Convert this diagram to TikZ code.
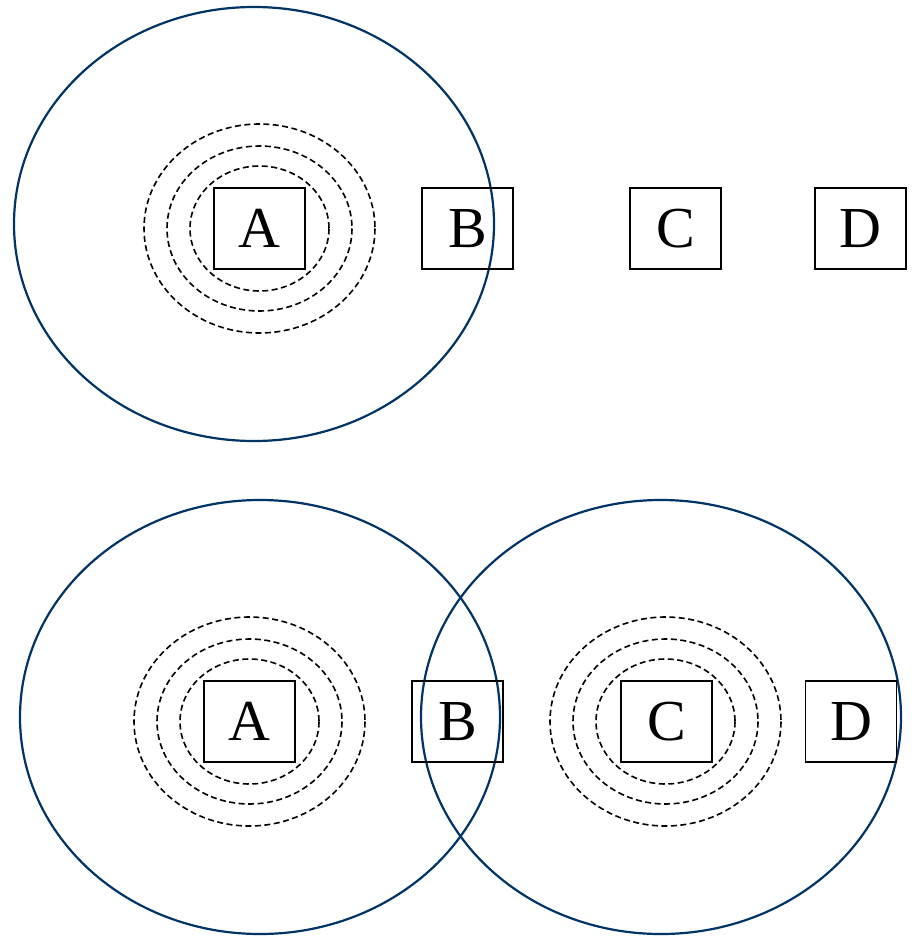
\documentclass[tikz,border=0pt]{standalone}
\usepackage{fontspec}
\setmainfont{Liberation Serif}
\definecolor{navy}{RGB}{0,51,102}
\begin{document}
\begin{tikzpicture}[x=1pt,y=-1pt,
  box/.style={draw=black,line width=1.9pt,minimum width=91pt,minimum height=81pt,inner sep=0pt,font=\fontsize{58}{58}\selectfont},
  big/.style={draw=navy,line width=2.2pt},
  ring/.style={draw=black,line width=1.6pt,dash pattern=on 6pt off 3.5pt}]
\useasboundingbox (0,0) rectangle (915,937);
% top
\draw[big] (254,224) ellipse [x radius=240,y radius=217];
\foreach \rx/\ry in {115.5/104.5,92.5/82.5,69.5/62.5}
  \draw[ring] (259.5,228.5) ellipse [x radius=\rx,y radius=\ry];
\node[box] (A1) at (259.5,228.5) {A};
\node[box] (B1) at (467.5,228.5) {B};
\node[box] (C1) at (675.5,228.5) {C};
\node[box] (D1) at (860.5,228.5) {D};
% bottom
\draw[big] (260,717) ellipse [x radius=240,y radius=217];
\draw[big] (661,717) ellipse [x radius=240,y radius=217];
\foreach \rx/\ry in {115.5/104.5,92.5/82.5,69.5/62.5}{
  \draw[ring] (249.5,721.5) ellipse [x radius=\rx,y radius=\ry];
  \draw[ring] (665.5,721.5) ellipse [x radius=\rx,y radius=\ry];}
\node[box] (A2) at (249.5,721.5) {A};
\node[box] (B2) at (457.5,721.5) {B};
\node[box] (C2) at (666.5,721.5) {C};
\node[box] (D2) at (851,721.5) {D};
\end{tikzpicture}
\end{document}
